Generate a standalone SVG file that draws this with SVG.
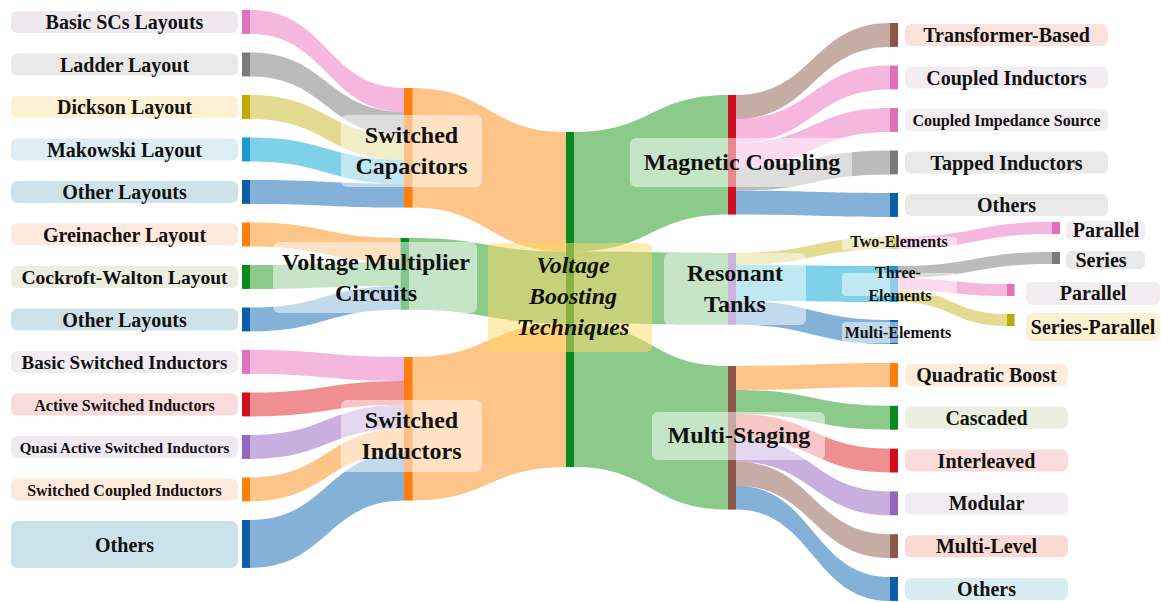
<svg xmlns="http://www.w3.org/2000/svg" width="1161" height="602" viewBox="0 0 1161 602">
  <style>
    .lk{fill-opacity:.5}
    .pk{fill:#ee6fbd}.gy{fill:#777}.ol{fill:#c8b820}.cy{fill:#00a4d0}.bl{fill:#0a64b0}
    .or{fill:#ff8a10}.gn{fill:#1a961a}.rd{fill:#e02020}.pu{fill:#9460c0}.br{fill:#8c5a4b}
    .bpk{fill:#e070b8}.bgy{fill:#7a7a7a}.bol{fill:#c0aa00}.bcy{fill:#1a9ad0}.bbl{fill:#0a5fa8}
    .bor{fill:#ff7f0e}.bgn{fill:#0a8a1e}.brd{fill:#d0101e}.bpu{fill:#9467bd}.bbr{fill:#8c564b}
    .lb{fill:#fff;fill-opacity:.5}
    .t{font-family:"Liberation Serif","Times New Roman",serif;font-weight:bold;fill:#111;text-anchor:middle}
    .f20{font-size:20px}.f19{font-size:19px}.f16{font-size:16px}.f15{font-size:15px}
    .big{font-size:24px}.it{font-style:italic}
  </style>

  <!-- flows -->
  <g id="links">
    <!-- Switched Capacitors inputs -->
    <path class="lk pk" d="M250 10C327 10 327 88 404 88L404 111.9C327 111.9 327 33.9 250 33.9Z"/>
    <path class="lk gy" d="M250 52.5C327 52.5 327 111.9 404 111.9L404 135.9C327 135.9 327 76.4 250 76.4Z"/>
    <path class="lk ol" d="M250 95C327 95 327 135.9 404 135.9L404 159.8C327 159.8 327 118.9 250 118.9Z"/>
    <path class="lk cy" d="M250 137.5C327 137.5 327 159.8 404 159.8L404 183.7C327 183.7 327 161.4 250 161.4Z"/>
    <path class="lk bl" d="M250 180C327 180 327 183.7 404 183.7L404 207.6C327 207.6 327 203.9 250 203.9Z"/>
    <!-- Voltage Multiplier inputs -->
    <path class="lk or" d="M250 222.5C325 222.5 325 238 400.5 238L400.5 261.9C325 261.9 325 246.4 250 246.4Z"/>
    <path class="lk gn" d="M250 265C325 265 325 261.9 400.5 261.9L400.5 285.9C325 285.9 325 288.9 250 288.9Z"/>
    <path class="lk bl" d="M250 307.5C325 307.5 325 285.9 400.5 285.9L400.5 309.8C325 309.8 325 331.4 250 331.4Z"/>
    <!-- Switched Inductors inputs -->
    <path class="lk pk" d="M250 350C327 350 327 357 404 357L404 380.9C327 380.9 327 373.9 250 373.9Z"/>
    <path class="lk rd" d="M250 392.5C327 392.5 327 380.9 404 380.9L404 404.8C327 404.8 327 416.4 250 416.4Z"/>
    <path class="lk pu" d="M250 435C327 435 327 404.8 404 404.8L404 428.8C327 428.8 327 458.9 250 458.9Z"/>
    <path class="lk or" d="M250 477.5C327 477.5 327 428.8 404 428.8L404 452.7C327 452.7 327 501.4 250 501.4Z"/>
    <path class="lk bl" d="M250 520C327 520 327 452.7 404 452.7L404 500.6C327 500.6 327 567.9 250 567.9Z"/>
    <!-- into the central node -->
    <path class="lk or" d="M412 88C489 88 489 132 566 132L566 251.6C489 251.6 489 207.6 412 207.6Z"/>
    <path class="lk gn" d="M409 238C487.5 238 487.5 251.6 566 251.6L566 323.4C487.5 323.4 487.5 309.8 409 309.8Z"/>
    <path class="lk or" d="M412 357C489 357 489 323.4 566 323.4L566 467C489 467 489 500.6 412 500.6Z"/>
    <!-- out of the central node -->
    <path class="lk gn" d="M574 132C651 132 651 95 728 95L728 214.6C651 214.6 651 251.6 574 251.6Z"/>
    <path class="lk gn" d="M574 251.6C651 251.6 651 253 728 253L728 324.8C651 324.8 651 323.4 574 323.4Z"/>
    <path class="lk gn" d="M574 323.4C651 323.4 651 366 728 366L728 509.6C651 509.6 651 467 574 467Z"/>
    <!-- Magnetic Coupling outputs -->
    <path class="lk br" d="M736 95C813 95 813 23 890 23L890 46.9C813 46.9 813 118.9 736 118.9Z"/>
    <path class="lk pk" d="M736 118.9C813 118.9 813 65.5 890 65.5L890 89.4C813 89.4 813 142.9 736 142.9Z"/>
    <path class="lk pk" d="M736 142.9C813 142.9 813 108 890 108L890 131.9C813 131.9 813 166.8 736 166.8Z"/>
    <path class="lk gy" d="M736 166.8C813 166.8 813 150.5 890 150.5L890 174.4C813 174.4 813 190.7 736 190.7Z"/>
    <path class="lk bl" d="M736 190.7C813 190.7 813 193 890 193L890 216.9C813 216.9 813 214.6 736 214.6Z"/>
    <!-- Resonant Tanks outputs -->
    <path class="lk ol" d="M736 253C813 253 813 237 890 237L890 249C813 249 813 265 736 265Z"/>
    <path class="lk cy" d="M736 265C813 265 813 266 890 266L890 302C813 302 813 300.9 736 300.9Z"/>
    <path class="lk bl" d="M736 300.9C813 300.9 813 320 890 320L890 344C813 344 813 324.8 736 324.8Z"/>
    <!-- Multi-Staging outputs -->
    <path class="lk or" d="M736 366C813 366 813 363 890 363L890 386.9C813 386.9 813 389.9 736 389.9Z"/>
    <path class="lk gn" d="M736 389.9C813 389.9 813 405.8 890 405.8L890 429.7C813 429.7 813 413.9 736 413.9Z"/>
    <path class="lk rd" d="M736 413.9C813 413.9 813 448.6 890 448.6L890 472.5C813 472.5 813 437.8 736 437.8Z"/>
    <path class="lk pu" d="M736 437.8C813 437.8 813 491.4 890 491.4L890 515.3C813 515.3 813 461.7 736 461.7Z"/>
    <path class="lk br" d="M736 461.7C813 461.7 813 534.2 890 534.2L890 558.1C813 558.1 813 485.7 736 485.7Z"/>
    <path class="lk bl" d="M736 485.7C813 485.7 813 577 890 577L890 600.9C813 600.9 813 509.6 736 509.6Z"/>
    <!-- resonant sub-branches -->
    <path class="lk pk" d="M898 237C975 237 975 222 1052 222L1052 234C975 234 975 249 898 249Z"/>
    <path class="lk gy" d="M898 266C975 266 975 252 1052 252L1052 264C975 264 975 278 898 278Z"/>
    <path class="lk pk" d="M898 278C952.5 278 952.5 284 1007 284L1007 296C952.5 296 952.5 290 898 290Z"/>
    <path class="lk ol" d="M898 290C952.5 290 952.5 314 1007 314L1007 326C952.5 326 952.5 302 898 302Z"/>
  </g>

  <!-- left leaves -->
  <g id="n-basic-scs"><rect class="bpk" x="242" y="10" width="8" height="23.9"/><rect x="11" y="11" width="227" height="22" rx="6" fill="#efe9ef"/><text class="t f20" x="124.5" y="29">Basic SCs Layouts</text></g>
  <g id="n-ladder"><rect class="bgy" x="242" y="52.5" width="8" height="23.9"/><rect x="11" y="53.5" width="227" height="22" rx="6" fill="#e9e9e9"/><text class="t f20" x="124.5" y="71.5">Ladder Layout</text></g>
  <g id="n-dickson"><rect class="bol" x="242" y="95" width="8" height="23.9"/><rect x="11" y="96" width="227" height="22" rx="6" fill="#fef0d2"/><text class="t f20" x="124.5" y="114">Dickson Layout</text></g>
  <g id="n-makowski"><rect class="bcy" x="242" y="137.5" width="8" height="23.9"/><rect x="11" y="138.5" width="227" height="22" rx="6" fill="#dcedf4"/><text class="t f20" x="124.5" y="156.5">Makowski Layout</text></g>
  <g id="n-other-sc"><rect class="bbl" x="242" y="180" width="8" height="23.9"/><rect x="11" y="181" width="227" height="22" rx="6" fill="#cfe2ea"/><text class="t f20" x="124.5" y="199">Other Layouts</text></g>
  <g id="n-greinacher"><rect class="bor" x="242" y="222.5" width="8" height="23.9"/><rect x="11" y="223.5" width="227" height="22" rx="6" fill="#fdeadc"/><text class="t f20" x="124.5" y="241.5">Greinacher Layout</text></g>
  <g id="n-cockroft"><rect class="bgn" x="242" y="265" width="8" height="23.9"/><rect x="11" y="266" width="227" height="22" rx="6" fill="#eceee2"/><text class="t" style="font-size:19.5px" x="124.5" y="284">Cockroft-Walton Layout</text></g>
  <g id="n-other-vm"><rect class="bbl" x="242" y="307.5" width="8" height="23.9"/><rect x="11" y="308.5" width="227" height="22" rx="6" fill="#cfe2ea"/><text class="t f20" x="124.5" y="326.5">Other Layouts</text></g>
  <g id="n-basic-si"><rect class="bpk" x="242" y="350" width="8" height="23.9"/><rect x="11" y="351" width="227" height="22" rx="6" fill="#f0ecf2"/><text class="t f19" x="124.5" y="369">Basic Switched Inductors</text></g>
  <g id="n-active-si"><rect class="brd" x="242" y="392.5" width="8" height="23.9"/><rect x="11" y="393.5" width="227" height="22" rx="6" fill="#f8dcdc"/><text class="t f16" x="124.5" y="411">Active Switched Inductors</text></g>
  <g id="n-quasi-si"><rect class="bpu" x="242" y="435" width="8" height="23.9"/><rect x="11" y="436" width="227" height="22" rx="6" fill="#eeeaf0"/><text class="t f15" x="124.5" y="453">Quasi Active Switched Inductors</text></g>
  <g id="n-coupled-si"><rect class="bor" x="242" y="477.5" width="8" height="23.9"/><rect x="11" y="478.5" width="227" height="22" rx="6" fill="#fdeadb"/><text class="t f16" x="124.5" y="496">Switched Coupled Inductors</text></g>
  <g id="n-others-si"><rect class="bbl" x="242" y="520" width="8" height="47.9"/><rect x="11" y="521" width="227" height="47" rx="7" fill="#cce2ea"/><text class="t f20" x="124.5" y="551.5">Others</text></g>

  <!-- intermediate left nodes -->
  <g id="n-switched-capacitors"><rect class="bor" x="404" y="88" width="8.5" height="119.6"/><rect class="lb" x="341" y="115" width="141" height="72" rx="6"/><text class="t big" x="411.5" y="143">Switched</text><text class="t big" x="411.5" y="174">Capacitors</text></g>
  <g id="n-voltage-multiplier"><rect class="bgn" x="400.5" y="238" width="8.5" height="71.8"/><rect class="lb" x="273" y="242" width="204" height="71" rx="6"/><text class="t big" x="376" y="270">Voltage Multiplier</text><text class="t big" x="376" y="301">Circuits</text></g>
  <g id="n-switched-inductors"><rect class="bor" x="404" y="357" width="8.5" height="143.6"/><rect class="lb" x="341" y="400" width="141" height="72" rx="6"/><text class="t big" x="411.5" y="428">Switched</text><text class="t big" x="411.5" y="459">Inductors</text></g>

  <!-- central node -->
  <g id="n-voltage-boosting"><rect class="bgn" x="566" y="132" width="8" height="335"/><rect x="488" y="243" width="164" height="109" rx="6" fill="#ffd966" fill-opacity=".5"/><text class="t big it" x="573" y="273">Voltage</text><text class="t big it" x="573" y="304">Boosting</text><text class="t big it" x="573" y="335">Techniques</text></g>

  <!-- intermediate right nodes -->
  <g id="n-magnetic-coupling"><rect class="brd" x="728" y="95" width="8" height="119.6"/><rect class="lb" x="630" y="138" width="222" height="49" rx="6"/><text class="t big" x="742" y="170">Magnetic Coupling</text></g>
  <g id="n-resonant-tanks"><rect class="bpu" x="728" y="253" width="8" height="71.8"/><rect class="lb" x="664" y="253" width="142" height="72" rx="6"/><text class="t big" x="735" y="281">Resonant</text><text class="t big" x="735" y="312">Tanks</text></g>
  <g id="n-multi-staging"><rect class="bbr" x="728" y="366" width="8" height="143.6"/><rect class="lb" x="652" y="412" width="173" height="48" rx="6"/><text class="t big" x="739" y="443">Multi-Staging</text></g>

  <!-- magnetic coupling leaves -->
  <g id="n-transformer"><rect class="bbr" x="890" y="23" width="8" height="23.9"/><rect x="905" y="24" width="203" height="22" rx="6" fill="#fbe2dc"/><text class="t f20" x="1006.5" y="42">Transformer-Based</text></g>
  <g id="n-coupled-inductors"><rect class="bpk" x="890" y="65.5" width="8" height="23.9"/><rect x="905" y="66.5" width="203" height="22" rx="6" fill="#f1edf1"/><text class="t f20" x="1006.5" y="84.5">Coupled Inductors</text></g>
  <g id="n-coupled-impedance"><rect class="bpk" x="890" y="108" width="8" height="23.9"/><rect x="905" y="109" width="203" height="22" rx="6" fill="#f1edf1"/><text class="t f16" x="1006.5" y="125.5">Coupled Impedance Source</text></g>
  <g id="n-tapped"><rect class="bgy" x="890" y="150.5" width="8" height="23.9"/><rect x="905" y="151.5" width="203" height="22" rx="6" fill="#e9e9e9"/><text class="t f20" x="1006.5" y="169.5">Tapped Inductors</text></g>
  <g id="n-others-mc"><rect class="bbl" x="890" y="193" width="8" height="23.9"/><rect x="905" y="194" width="203" height="22" rx="6" fill="#e9e9e9"/><text class="t f20" x="1006.5" y="212">Others</text></g>

  <!-- resonant tank branches -->
  <g id="n-two-elements"><rect class="bol" x="890" y="237" width="8" height="12"/><rect class="lb" x="842" y="237" width="115" height="13" rx="3"/><text class="t f16" x="899" y="247">Two-Elements</text></g>
  <g id="n-three-elements"><rect class="bcy" x="890" y="266" width="8" height="36"/><rect class="lb" x="842" y="273" width="115" height="23" rx="4"/><text class="t f16" x="898" y="278">Three-</text><text class="t f16" x="900" y="301">Elements</text></g>
  <g id="n-multi-elements"><rect class="bbl" x="890" y="320" width="8" height="24"/><rect class="lb" x="842" y="322" width="115" height="21" rx="4"/><text class="t f16" x="898" y="338">Multi-Elements</text></g>
  <g id="n-parallel-2"><rect class="bpk" x="1052" y="222" width="8" height="12"/><rect x="1066" y="221" width="79" height="19" rx="5" fill="#f1edf1"/><text class="t f20" x="1106" y="237">Parallel</text></g>
  <g id="n-series-3"><rect class="bgy" x="1052" y="252" width="8" height="12"/><rect x="1066" y="251" width="79" height="18" rx="5" fill="#e9e9e9"/><text class="t f20" x="1101" y="267">Series</text></g>
  <g id="n-parallel-3"><rect class="bpk" x="1007" y="284" width="7.5" height="12"/><rect x="1026" y="282" width="134" height="23" rx="6" fill="#f1edf1"/><text class="t f20" x="1093" y="300">Parallel</text></g>
  <g id="n-series-parallel"><rect class="bol" x="1007" y="314" width="7.5" height="12"/><rect x="1026" y="313" width="134" height="28" rx="6" fill="#fdf0d2"/><text class="t f20" x="1093" y="334">Series-Parallel</text></g>

  <!-- multi-staging leaves -->
  <g id="n-quadratic"><rect class="bor" x="890" y="363" width="8" height="23.9"/><rect x="905" y="364" width="163" height="22" rx="6" fill="#fdebdd"/><text class="t f20" x="986.5" y="382">Quadratic Boost</text></g>
  <g id="n-cascaded"><rect class="bgn" x="890" y="405.8" width="8" height="23.9"/><rect x="905" y="406.8" width="163" height="22" rx="6" fill="#ebefe0"/><text class="t f20" x="986.5" y="424.8">Cascaded</text></g>
  <g id="n-interleaved"><rect class="brd" x="890" y="448.6" width="8" height="23.9"/><rect x="905" y="449.6" width="163" height="22" rx="6" fill="#f9dcdc"/><text class="t f20" x="986.5" y="467.6">Interleaved</text></g>
  <g id="n-modular"><rect class="bpu" x="890" y="491.4" width="8" height="23.9"/><rect x="905" y="492.4" width="163" height="22" rx="6" fill="#f0ecf2"/><text class="t f20" x="986.5" y="510.4">Modular</text></g>
  <g id="n-multi-level"><rect class="bbr" x="890" y="534.2" width="8" height="23.9"/><rect x="905" y="535.2" width="163" height="22" rx="6" fill="#f9dad4"/><text class="t f20" x="986.5" y="553.2">Multi-Level</text></g>
  <g id="n-others-ms"><rect class="bbl" x="890" y="577" width="8" height="23.9"/><rect x="905" y="578" width="163" height="22" rx="6" fill="#d8ecf2"/><text class="t f20" x="986.5" y="596">Others</text></g>
</svg>
